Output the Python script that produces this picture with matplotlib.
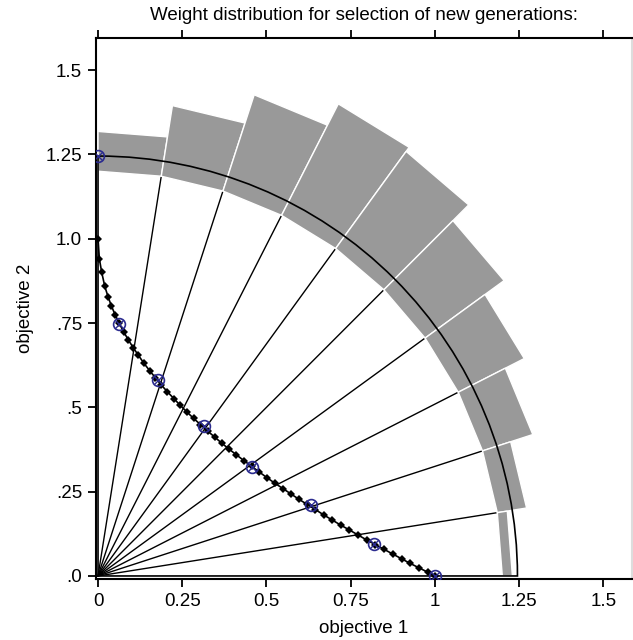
import numpy as np
import matplotlib
matplotlib.use("Agg")
import matplotlib.pyplot as plt
from matplotlib.patches import Polygon, Wedge

# ---- data ----
sector_edges_deg = [90, 81, 72, 63, 54, 45, 36, 27, 18, 9, 0]
sector_outer = [1.318, 1.412, 1.500, 1.571, 1.556, 1.490, 1.420, 1.357, 1.288, 1.230]
sector_inner = 1.2
front_radius = 1.245

front_x = [0.000, 0.004, 0.011, 0.020, 0.030, 0.040, 0.051, 0.063, 0.076, 0.090,
           0.105, 0.120, 0.136, 0.153, 0.170, 0.188, 0.206, 0.225, 0.244, 0.264,
           0.284, 0.304, 0.325, 0.346, 0.367, 0.389, 0.411, 0.433, 0.456, 0.479,
           0.502, 0.525, 0.549, 0.573, 0.597, 0.621, 0.645, 0.670, 0.695, 0.720,
           0.745, 0.771, 0.797, 0.823, 0.849, 0.875, 0.901, 0.927, 0.953, 0.979, 1.000]
front_y = [1.000, 0.940, 0.900, 0.859, 0.827, 0.800, 0.774, 0.749, 0.724, 0.700,
           0.676, 0.654, 0.631, 0.609, 0.588, 0.566, 0.546, 0.526, 0.506, 0.486,
           0.467, 0.449, 0.430, 0.412, 0.394, 0.376, 0.359, 0.342, 0.325, 0.308,
           0.291, 0.275, 0.259, 0.243, 0.227, 0.212, 0.197, 0.181, 0.166, 0.151,
           0.137, 0.122, 0.107, 0.093, 0.079, 0.065, 0.051, 0.037, 0.024, 0.011, 0.000]

marked_x = [0.000, 0.063, 0.179, 0.315, 0.456, 0.631, 0.819, 1.000]
marked_y = [1.245, 0.748, 0.582, 0.445, 0.324, 0.211, 0.095, 0.000]

xticks = [0, 0.25, 0.5, 0.75, 1.0, 1.25, 1.5]
xtick_labels = ["0", "0.25", "0.5", "0.75", "1", "1.25", "1.5"]
yticks = [0, 0.25, 0.5, 0.75, 1.0, 1.25, 1.5]
ytick_labels = [".0", ".25", ".5", ".75", "1.0", "1.25", "1.5"]

plt.rcParams['font.family'] = ['Liberation Sans', 'DejaVu Sans']

W, H = 633, 640
fig = plt.figure(figsize=(W / 100, H / 100), dpi=100)
left, right, top, bottom = 96, 632, 38, 579
ax = fig.add_axes([left / W, 1 - bottom / H, (right - left) / W, (bottom - top) / H])
ax.set_xlim(-0.006, 1.585)
ax.set_ylim(-0.009, 1.595)

# rays
for a in sector_edges_deg[1:-1]:
    t = np.radians(a)
    ax.plot([0, sector_inner * np.cos(t)], [0, sector_inner * np.sin(t)],
            color="black", lw=1.0, zorder=1)

# gray weight sectors
for i in range(len(sector_outer)):
    t1 = np.radians(sector_edges_deg[i])
    t2 = np.radians(sector_edges_deg[i + 1])
    ro = sector_outer[i]
    ri = sector_inner
    pts = [(ri * np.cos(t1), ri * np.sin(t1)), (ro * np.cos(t1), ro * np.sin(t1)),
           (ro * np.cos(t2), ro * np.sin(t2)), (ri * np.cos(t2), ri * np.sin(t2))]
    ax.add_patch(Polygon(pts, closed=True, facecolor="#999999", edgecolor="white",
                         lw=1.0, zorder=2))

# outline sector
ax.add_patch(Wedge((0, 0), front_radius, 0, 90, fill=False, edgecolor="black",
                   lw=1.2, zorder=3))

# front points
ax.plot(front_x, front_y, color="black", lw=1.2, marker="D", ms=4.5,
        markeredgewidth=0, zorder=4)

# marked points
ax.plot(marked_x, marked_y, linestyle="none", marker="o", ms=8.5, mfc="none",
        mec="#2b2b8f", mew=1.2, zorder=5)
ax.plot(marked_x, marked_y, linestyle="none", marker="x", ms=6,
        mec="#2b2b8f", mew=1.0, zorder=5)

ax.set_xticks(xticks)
ax.set_xticklabels(xtick_labels)
ax.set_yticks(yticks)
ax.set_yticklabels(ytick_labels)
ax.tick_params(axis="both", direction="out", length=6, width=1.3, labelsize=13.5,
               colors="black")
ax.tick_params(axis="x", top=True, labeltop=False, pad=4)
ax.tick_params(axis="y", pad=4)
for s in ax.spines.values():
    s.set_linewidth(1.5)
ax.spines["right"].set_color("#dddddd")

ax.set_xlabel("objective 1", fontsize=13.5, labelpad=7)
ax.set_ylabel("objective 2", fontsize=13.5, labelpad=8)
fig.text((left + right) / 2 / W, 1 - 16 / H,
         "Weight distribution for selection of new generations:",
         ha="center", va="center", fontsize=13.5)

fig.savefig("out.png", dpi=100)
